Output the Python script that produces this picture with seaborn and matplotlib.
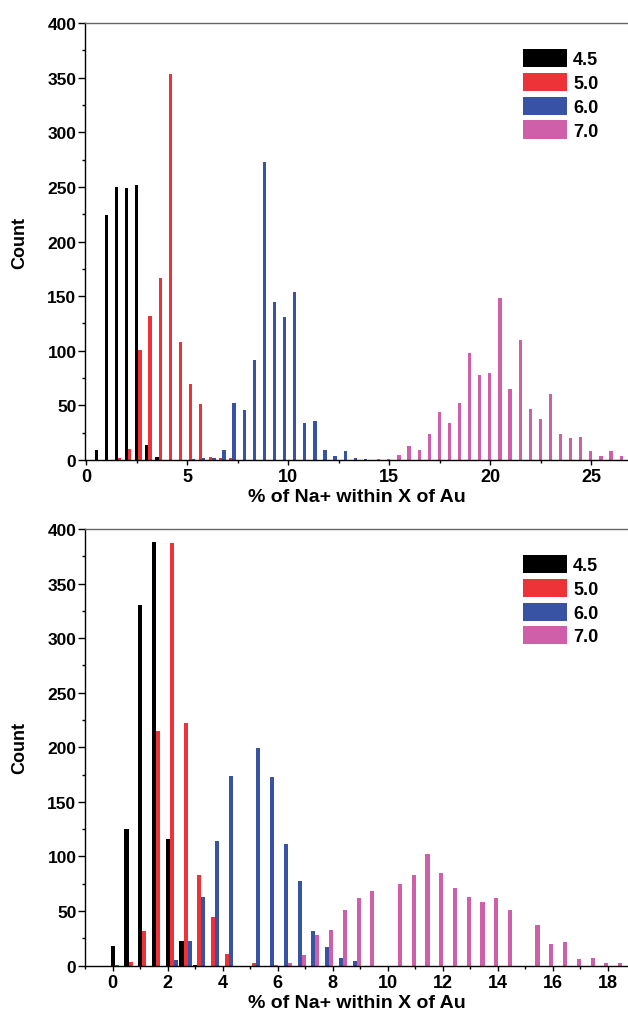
import pandas as pd
import seaborn as sns
import matplotlib.pyplot as plt
from matplotlib.patches import Patch
from matplotlib.ticker import MultipleLocator

# cutoff distances (legend) and their colours
cutoffs = ["4.5", "5.0", "6.0", "7.0"]
colors = ["#000000", "#ee3338", "#3953a4", "#cf5fa8"]

# --- top panel: bins (%) and counts per cutoff ---
top_bins_45 = [0.5, 1.0, 1.5, 2.0, 2.5, 3.0, 3.5]
top_cnt_45 = [9, 224, 250, 249, 252, 14, 3]

top_bins_50 = [1.5, 2.0, 2.5, 3.0, 3.5, 4.0, 4.5, 5.0, 5.5, 6.0, 6.5, 7.0]
top_cnt_50 = [2, 10, 101, 132, 167, 353, 108, 70, 51, 3, 2, 2]

top_bins_60 = [5.0, 5.5, 6.0, 6.5, 7.0, 7.5, 8.0, 8.5, 9.0, 9.5, 10.0, 10.5,
               11.0, 11.5, 12.0, 12.5, 13.0, 13.5]
top_cnt_60 = [1, 2, 2, 9, 52, 46, 92, 273, 145, 131, 154, 34, 36, 9, 4, 8, 2, 1]

top_bins_70 = [14.0, 14.5, 15.0, 15.5, 16.0, 16.5, 17.0, 17.5, 18.0, 18.5, 19.0,
               19.5, 20.0, 20.5, 21.0, 21.5, 22.0, 22.5, 23.0, 23.5, 24.0, 24.5,
               25.0, 25.5, 26.0]
top_cnt_70 = [1, 1, 5, 13, 9, 24, 44, 34, 52, 98, 78, 80, 148, 65, 110, 47, 38,
              60, 24, 20, 21, 8, 4, 8, 4]

# --- bottom panel ---
bot_bins_45 = [0.0, 0.5, 1.0, 1.5, 2.0, 2.5, 3.0]
bot_cnt_45 = [18, 125, 330, 388, 116, 23, 1]

bot_bins_50 = [0.0, 0.5, 1.0, 1.5, 2.0, 2.5, 3.0, 3.5, 4.0, 5.0]
bot_cnt_50 = [1, 3, 32, 215, 387, 222, 83, 45, 11, 2]

bot_bins_60 = [2.0, 2.5, 3.0, 3.5, 4.0, 5.0, 5.5, 6.0, 6.5, 7.0, 7.5, 8.0, 8.5]
bot_cnt_60 = [5, 23, 63, 114, 174, 199, 173, 111, 78, 32, 17, 7, 4]

bot_bins_70 = [5.5, 6.0, 6.5, 7.0, 7.5, 8.0, 8.5, 9.0, 10.0, 10.5, 11.0, 11.5,
               12.0, 12.5, 13.0, 13.5, 14.0, 15.0, 15.5, 16.0, 16.5, 17.0, 17.5, 18.0]
bot_cnt_70 = [1, 2, 10, 28, 33, 51, 62, 68, 75, 83, 102, 85, 71, 63, 58, 62, 51,
              37, 20, 22, 6, 7, 2, 2]


def long_df(series):
    frames = []
    for cut, (bins, counts) in zip(cutoffs, series):
        frames.append(pd.DataFrame({"pct": bins, "count": counts, "cutoff": cut}))
    return pd.concat(frames, ignore_index=True)


top_df = long_df([(top_bins_45, top_cnt_45), (top_bins_50, top_cnt_50),
                  (top_bins_60, top_cnt_60), (top_bins_70, top_cnt_70)])
bot_df = long_df([(bot_bins_45, bot_cnt_45), (bot_bins_50, bot_cnt_50),
                  (bot_bins_60, bot_cnt_60), (bot_bins_70, bot_cnt_70)])

sns.set_style("ticks")
plt.rcParams["font.family"] = ["Liberation Sans", "DejaVu Sans"]
plt.rcParams["font.weight"] = "bold"
plt.rcParams["text.color"] = "black"
plt.rcParams["axes.labelcolor"] = "black"
plt.rcParams["xtick.color"] = "black"
plt.rcParams["ytick.color"] = "black"

fig = plt.figure(figsize=(6.28, 10.2), dpi=100)
ax_top = fig.add_axes([0.1354, 0.548, 0.8646, 0.4284])
ax_bot = fig.add_axes([0.1354, 0.0523, 0.8646, 0.4281])


def draw(ax, df, bar_w, xlim, major, minor):
    # seaborn centres the dodged group on x, so shift it to put the first series on the bin
    df = df.assign(xpos=df["pct"] + 1.5 * bar_w)
    sns.barplot(data=df, x="xpos", y="count", hue="cutoff", hue_order=cutoffs,
                palette=dict(zip(cutoffs, colors)), native_scale=True,
                width=4 * bar_w / 0.5, saturation=1, errorbar=None,
                linewidth=0, legend=False, ax=ax)
    ax.set_xlim(*xlim)
    ax.set_ylim(0, 400)
    ax.xaxis.set_major_locator(MultipleLocator(major))
    ax.xaxis.set_minor_locator(MultipleLocator(minor))
    ax.yaxis.set_major_locator(MultipleLocator(50))
    ax.yaxis.set_minor_locator(MultipleLocator(25))
    ax.tick_params(axis="x", which="major", direction="out", length=3.5, width=1,
                   pad=2.5, labelsize=13, colors="black")
    ax.tick_params(axis="x", which="minor", direction="out", length=2, width=1,
                   colors="black")
    ax.tick_params(axis="y", which="major", direction="out", length=5, width=1,
                   pad=1.2, labelsize=12.5, colors="black")
    ax.tick_params(axis="y", which="minor", direction="out", length=2.4, width=1,
                   colors="black")
    for lab in ax.get_xticklabels() + ax.get_yticklabels():
        lab.set_fontweight("bold")
    ax.spines["left"].set_color("black")
    ax.spines["bottom"].set_color("black")
    ax.spines["left"].set_linewidth(1.0)
    ax.spines["bottom"].set_linewidth(1.0)
    ax.spines["top"].set_color("#666666")
    ax.spines["top"].set_linewidth(1.0)
    ax.spines["right"].set_visible(False)
    ax.set_xlabel("% of Na+ within X of Au", fontsize=14, fontweight="bold",
                  color="black")
    ax.set_ylabel("Count", fontsize=13, fontweight="bold", color="black")
    ax.xaxis.set_label_coords(0.5, -0.065)
    ax.yaxis.set_label_coords(-0.105, 0.5)
    handles = [Patch(facecolor=c, edgecolor="none") for c in colors]
    leg = ax.legend(handles, cutoffs, loc="upper left", bbox_to_anchor=(0.806, 0.94),
                    frameon=False, handlelength=2.45, handleheight=1.17,
                    labelspacing=0.25, handletextpad=0.35, borderpad=0,
                    borderaxespad=0, prop={"weight": "bold", "size": 13})
    for t in leg.get_texts():
        t.set_color("black")


draw(ax_top, top_df, 0.16, (-0.06, 26.82), 5, 2.5)
draw(ax_bot, bot_df, 0.147, (-1.007, 18.73), 2, 1)

fig.savefig("out.png", dpi=100)
